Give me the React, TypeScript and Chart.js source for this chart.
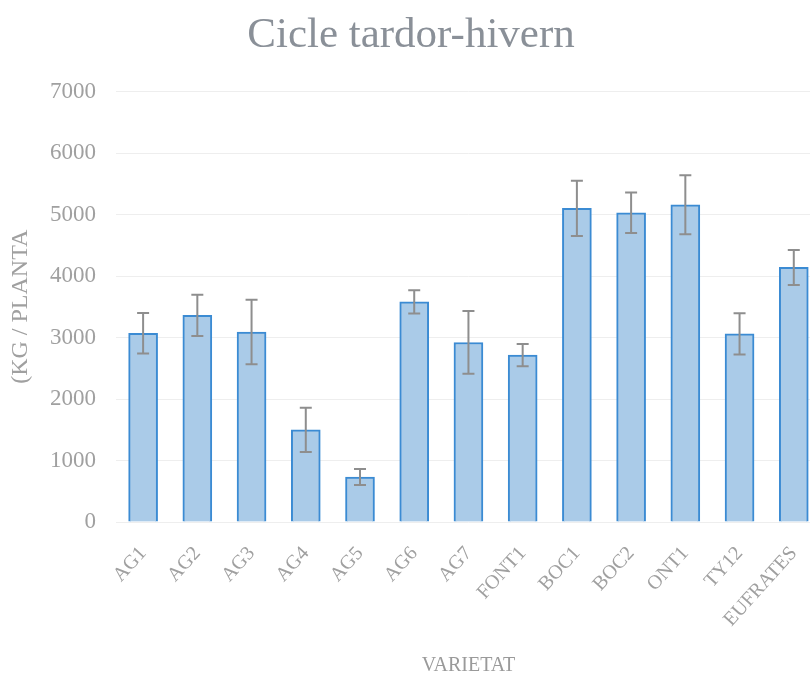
import React, { useEffect, useRef } from "react";
import { Chart, registerables } from "chart.js";

Chart.register(...registerables);

const categories = ["AG1", "AG2", "AG3", "AG4", "AG5", "AG6", "AG7", "FONT1", "BOC1", "BOC2", "ONT1", "TY12", "EUFRATES"];
const yieldValues = [3070, 3360, 3090, 1500, 730, 3580, 2920, 2715, 5100, 5030, 5160, 3060, 4140];
const errorValues = [330, 335, 525, 360, 130, 190, 510, 180, 450, 330, 480, 335, 285];
const yTickValues = [0, 1000, 2000, 3000, 4000, 5000, 6000, 7000];

const chartTitle = "Cicle tardor-hivern";
const yAxisTitle = "(KG / PLANTA";
const xAxisTitle = "VARIETAT";

const FONT = "'Liberation Serif', 'DejaVu Serif', serif";

const errorBarPlugin = {
  id: "errorBars",
  afterDatasetsDraw(chart: any) {
    const ctx = chart.ctx;
    const meta = chart.getDatasetMeta(0);
    const yScale = chart.scales.y;
    ctx.save();
    ctx.strokeStyle = "#8e8e8e";
    ctx.lineWidth = 2;
    meta.data.forEach((bar: any, i: number) => {
      const v = yieldValues[i];
      const e = errorValues[i];
      const x = bar.x;
      const top = yScale.getPixelForValue(v + e);
      const bot = yScale.getPixelForValue(v - e);
      ctx.beginPath();
      ctx.moveTo(x, top);
      ctx.lineTo(x, bot);
      ctx.moveTo(x - 6, top);
      ctx.lineTo(x + 6, top);
      ctx.moveTo(x - 6, bot);
      ctx.lineTo(x + 6, bot);
      ctx.stroke();
    });
    ctx.restore();
  },
};

export default function App() {
  const canvasRef = useRef<HTMLCanvasElement | null>(null);

  useEffect(() => {
    if (!canvasRef.current) return;
    const chart = new Chart(canvasRef.current, {
      type: "bar",
      data: {
        labels: categories,
        datasets: [
          {
            data: yieldValues,
            backgroundColor: "#aacbe8",
            borderColor: "#3b8bd3",
            borderWidth: 2,
            barThickness: 29,
          },
        ],
      },
      plugins: [errorBarPlugin],
      options: {
        responsive: false,
        animation: false,
        layout: { padding: { left: 0, right: 10, top: 0, bottom: 0 } },
        plugins: {
          legend: { display: false },
          tooltip: { enabled: false },
          title: {
            display: true,
            text: chartTitle,
            color: "#8a9098",
            font: { family: FONT, size: 43, weight: "normal", lineHeight: 1.2 },
            padding: { top: 10, bottom: 30 },
          },
        },
        scales: {
          x: {
            grid: { display: false, drawTicks: false },
            border: { display: false },
            ticks: {
              color: "#a0a0a0",
              font: { family: FONT, size: 20 },
              minRotation: 48,
              maxRotation: 48,
              autoSkip: false,
              padding: 20,
            },
            title: {
              display: true,
              text: xAxisTitle,
              color: "#9a9a9a",
              font: { family: FONT, size: 20 },
              padding: { top: 0, bottom: 4 },
            },
            afterFit(scale: any) {
              scale.height = 160;
            },
          },
          y: {
            min: 0,
            max: 7000,
            afterBuildTicks(scale: any) {
              scale.ticks = yTickValues.map((v) => ({ value: v }));
            },
            grid: { color: "#eeeeee", drawTicks: false, lineWidth: 1 },
            border: { display: false },
            ticks: {
              color: "#a0a0a0",
              font: { family: FONT, size: 23 },
              padding: 20,
              callback: (value: any) => String(value),
            },
            title: {
              display: true,
              text: yAxisTitle,
              color: "#a0a0a0",
              font: { family: FONT, size: 24 },
              padding: { top: 6, bottom: 0 },
            },
            afterFit(scale: any) {
              scale.width = 116;
            },
          },
        },
      },
    });
    return () => chart.destroy();
  }, []);

  return (
    <div style={{ position: "fixed", left: 0, top: 0, width: 810, height: 682, overflow: "hidden", background: "#fff" }}>
      <canvas ref={canvasRef} width={832} height={682} style={{ display: "block" }} />
    </div>
  );
}
